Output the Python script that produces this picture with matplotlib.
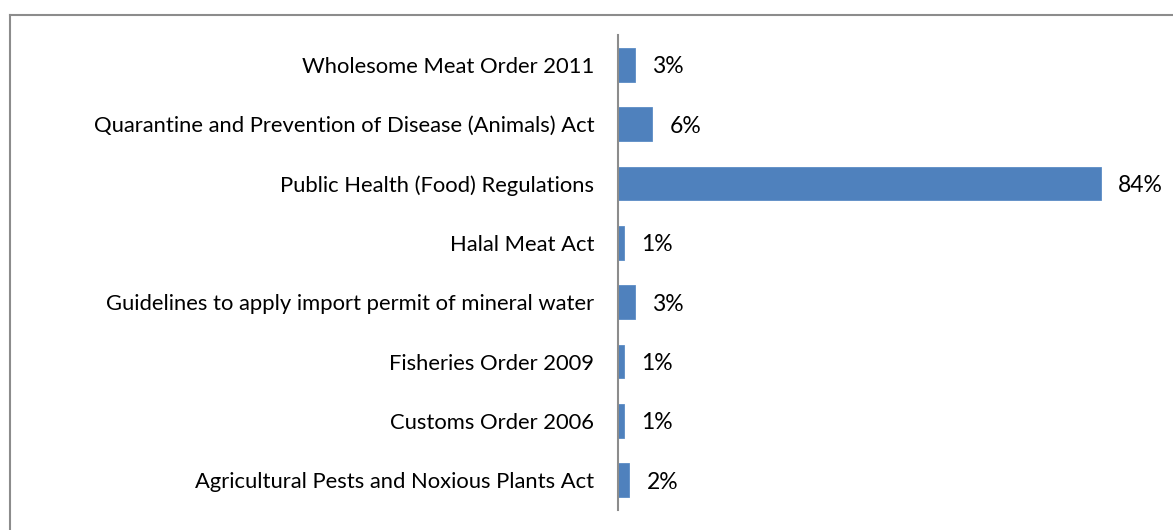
import matplotlib
matplotlib.use("Agg")
import matplotlib.pyplot as plt
from matplotlib.lines import Line2D

categories = [
    "Wholesome Meat Order 2011",
    "Quarantine and Prevention of Disease (Animals) Act",
    "Public Health (Food) Regulations",
    "Halal Meat Act",
    "Guidelines to apply import permit of mineral water",
    "Fisheries Order 2009",
    "Customs Order 2006",
    "Agricultural Pests and Noxious Plants Act",
]
values = [3, 6, 84, 1, 3, 1, 1, 2]

plt.rcParams["font.family"] = ["Lato", "DejaVu Sans"]

W, H = 1173, 530
fig = plt.figure(figsize=(W / 100, H / 100), dpi=100)
x0, x1 = 618, 1135
y0, y1 = 35, 510
ax = fig.add_axes([x0 / W, 1 - y1 / H, (x1 - x0) / W, (y1 - y0) / H])

n = len(categories)
ypos = list(range(n))[::-1]
ax.barh(ypos, values, height=0.57, color="#4F81BD", edgecolor="#5B8CC6", linewidth=0.6)
for y, v in zip(ypos, values):
    ax.text(v + 3.0, y, f"{v}%", va="center_baseline", ha="left", fontsize=16.5,
            color="black", clip_on=False)

ax.set_xlim(0, 90)
ax.set_ylim(-0.5, n - 0.5)
ax.set_yticks(ypos)
ax.set_yticklabels(categories, fontsize=15.8)
ax.tick_params(axis="y", length=0, pad=17)
ax.set_xticks([])
for s in ["top", "right", "bottom"]:
    ax.spines[s].set_visible(False)
ax.spines["left"].set_color("#8c8c8c")
ax.spines["left"].set_linewidth(1.5)

# outer chart border (top and left edges visible)
fig.add_artist(Line2D([10 / W, 1], [1 - 15 / H, 1 - 15 / H], transform=fig.transFigure, color="#8c8c8c", lw=1.5))
fig.add_artist(Line2D([10 / W, 10 / W], [0, 1 - 15 / H], transform=fig.transFigure, color="#8c8c8c", lw=1.5))

fig.savefig("out.png", dpi=100)
